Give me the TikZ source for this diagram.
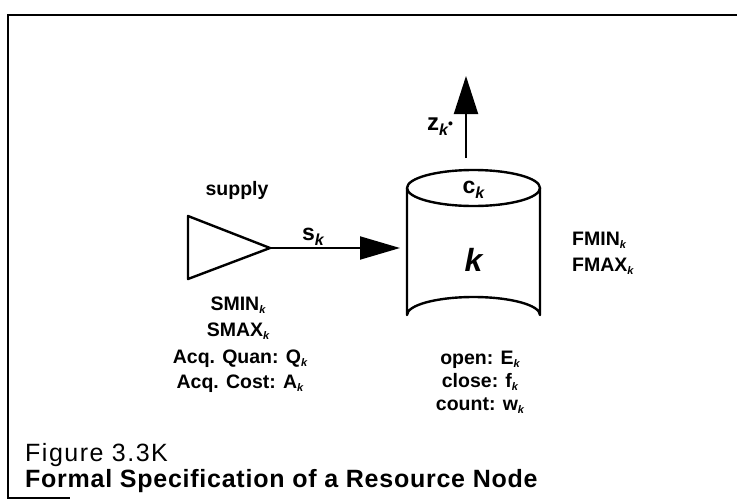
\documentclass[tikz,border=0pt]{standalone}
\usepackage{fontspec}
\setmainfont{Liberation Sans}
\usetikzlibrary{arrows.meta}
\newcommand\subk{\raisebox{-0.35ex}{\fontsize{11}{11}\selectfont\bfseries\itshape k}}
\newcommand\bigsubk{\raisebox{-0.45ex}{\fontsize{16}{16}\selectfont\bfseries\itshape k}}
\begin{document}
\begin{tikzpicture}[x=1pt,y=-1pt,
  lbl/.style={inner sep=0pt,font=\fontsize{19.5}{22}\selectfont\bfseries},
  shapeline/.style={line width=2.4pt,line join=round},
  flow/.style={line width=2pt},
  cap1/.style={inner sep=0pt,anchor=base west,font=\fontsize{25}{27}\selectfont\addfontfeatures{LetterSpace=6}},
  cap2/.style={inner sep=0pt,anchor=base west,font=\fontsize{25}{27}\selectfont\bfseries\addfontfeatures{LetterSpace=3}}]
\useasboundingbox (0,0) rectangle (737,501);
% frame
\draw[line width=2.2pt] (737,15) -- (8,15) -- (8,498) -- (70,498);
% supply triangle
\coordinate (sa) at (188,216);
\coordinate (sb) at (188,279);
\coordinate (suptip) at (270,248);
\draw[shapeline] (sa) -- (suptip) -- (sb) -- cycle;
% cylinder
\coordinate (cl) at (407,188);
\coordinate (cr) at (540,188);
\draw[shapeline] (473.5,188) ellipse [x radius=66.5, y radius=18];
\draw[shapeline] (cl) -- (407,315) arc[start angle=180,end angle=360,x radius=66.5,y radius=18] -- (cr);
% connectors
\coordinate (inend) at (400,248);
\coordinate (outstart) at (466,158);
\coordinate (outend) at (466,76);
\draw[flow,-{Triangle[length=40pt,width=23pt]}] (suptip) -- (inend);
\draw[flow,-{Triangle[length=38pt,width=24pt]}] (outstart) -- (outend);
% labels
\node[lbl,anchor=base] (supply) at (237,195) {supply};
\node[lbl,anchor=base] (sk) at (313,240) {\fontsize{23}{23}\selectfont s\bigsubk};
\node[lbl,anchor=base] (zk) at (440,130) {\fontsize{24}{24}\selectfont z\bigsubk\raisebox{0.1ex}{\fontsize{14}{14}\selectfont\textbullet}};
\node[lbl,anchor=base] (ck) at (473.5,193) {\fontsize{23}{23}\selectfont c\bigsubk};
\node[inner sep=0pt,anchor=base] (k) at (473.5,271) {\fontsize{32}{32}\selectfont\bfseries\itshape k};
\node[lbl,anchor=base west] (fmin) at (572,245) {FMIN\subk};
\node[lbl,anchor=base west] (fmax) at (572,271) {FMAX\subk};
\node[lbl,anchor=base] (smin) at (238,310) {SMIN\subk};
\node[lbl,anchor=base] (smax) at (238,336) {SMAX\subk};
\node[lbl,anchor=base] (aq) at (240,363) {Acq. Quan: Q\subk};
\node[lbl,anchor=base] (ac) at (240,388) {Acq. Cost: A\subk};
\node[lbl,anchor=base] (open) at (480,364) {open: E\subk};
\node[lbl,anchor=base] (close) at (480,387) {close: f\subk};
\node[lbl,anchor=base] (count) at (480,410) {count: w\subk};
\node[cap1] (fig) at (25,461) {Figure 3.3K};
\node[cap2] (title) at (25,487) {Formal Specification of a Resource Node};
\end{tikzpicture}
\end{document}
